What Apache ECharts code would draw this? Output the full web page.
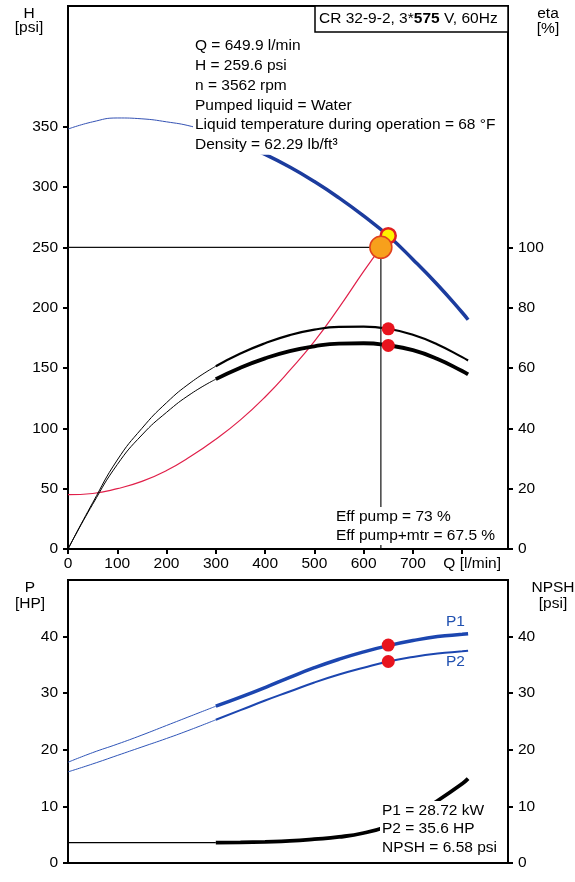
<!DOCTYPE html>
<html>
<head>
<meta charset="utf-8">
<script src="https://cdn.jsdelivr.net/npm/echarts@6/dist/echarts.min.js"></script>
<style>
  html, body { margin: 0; padding: 0; background: #fff; }
  #chart { width: 575px; height: 882px; }
</style>
</head>
<body>
<div id="chart"></div>
<script>
  // flow grid used by most curves [l/min]
  const qGrid = [0, 50, 100, 150, 200, 250, 300, 350, 400, 450, 500, 550, 600, 650, 700, 750, 800, 812]
  // head curve [psi]
  const headVals = [348, 354, 357.2, 356.5, 354, 350.3, 344, 336, 327, 316.5, 304.5, 291, 276, 259.6, 240, 219, 196, 190]
  // system curve [psi]
  const qSys = [0, 50, 100, 150, 200, 250, 300, 350, 400, 450, 500, 550, 600, 635]
  const sysVals = [45, 46, 50, 56, 65, 77, 91, 107, 126, 148, 172, 200, 230, 250]
  // efficiencies [%]
  const etaPump = [0, 15.3, 29.5, 40, 48.5, 55.3, 60.6, 64.8, 68.2, 70.9, 72.7, 73.6, 73.7, 73, 71, 67.8, 63.6, 62.5]
  const etaTotal = [0, 14.8, 28, 37.8, 45.3, 51.5, 56.3, 60.1, 63.2, 65.6, 67.2, 68.1, 68.2, 67.5, 65.9, 63, 59, 57.9]
  // power [HP] and NPSH [psi]
  const p1Vals = [17.8, 19.5, 21, 22.6, 24.3, 26, 27.7, 29.3, 31, 32.8, 34.5, 36, 37.3, 38.4, 39.3, 40, 40.4, 40.5]
  const p2Vals = [16.1, 17.5, 19, 20.5, 22, 23.6, 25.3, 27, 28.7, 30.3, 31.9, 33.3, 34.5, 35.6, 36.4, 37, 37.4, 37.5]
  const npshVals = [3.6, 3.6, 3.6, 3.6, 3.6, 3.6, 3.6, 3.65, 3.75, 3.9, 4.2, 4.6, 5.3, 6.5, 8.3, 11, 14, 14.9]
  // duty / operating points
  const dutyPoint = [635, 250]
  const opPoint = [649.9, 259.6]
  const etaPoints = [[650, 73], [650, 67.5]]
  const powerPoints = [[650, 38.5], [650, 35.6]]
  // tick labels
  const qTicks = [0, 100, 200, 300, 400, 500, 600, 700, 800]
  const hTicks = [0, 50, 100, 150, 200, 250, 300, 350]
  const etaTicks = [0, 20, 40, 60, 80, 100]
  const pTicks = [0, 10, 20, 30, 40]
  const npshTicks = [0, 10, 20, 30, 40]

  const FONT = "'Liberation Sans', Arial, sans-serif"
  const FS = 15.5

  // pairs between two flow limits
  const seg = (qs, vs, from, to) => qs.map((q, i) => [q, vs[i]]).filter(p => p[0] >= from && p[0] <= to)

  const chart = echarts.init(document.getElementById('chart'))

  const axisLineStyle = { lineStyle: { color: '#000', width: 2 } }
  const tickLabel = { color: '#000', fontSize: FS, fontFamily: FONT }

  const yAxisOf = (grid, pos, max, ticks) => ({
    type: 'value',
    gridIndex: grid,
    position: pos,
    min: 0,
    max: max,
    axisLine: { show: true, ...axisLineStyle },
    axisTick: { show: true, length: 5, lineStyle: { color: '#000', width: 2 }, customValues: ticks },
    axisLabel: { ...tickLabel, margin: 10, customValues: ticks },
    splitLine: { show: false },
  })

  const line = (name, data, color, width, xi, yi, z) => ({
    name, type: 'line', data, xAxisIndex: xi, yAxisIndex: yi,
    smooth: true, symbol: 'none', silent: true, z: z || 2,
    lineStyle: { color, width },
  })

  const textEl = (text, x, y, extra) => ({
    type: 'text', z: 100, x, y,
    style: { text, font: `${FS}px ${FONT}`, fill: '#000', ...extra },
  })

  const options = {
    animation: false,
    backgroundColor: '#fff',
    grid: [
      { left: 68, top: 6, width: 440, height: 543, show: true, borderColor: '#000', borderWidth: 2, backgroundColor: 'transparent' },
      { left: 68, top: 580, width: 440, height: 283, show: true, borderColor: '#000', borderWidth: 2, backgroundColor: 'transparent' },
    ],
    xAxis: [
      {
        type: 'value', gridIndex: 0, min: 0, max: 893,
        axisLine: { show: true, ...axisLineStyle },
        axisTick: { show: true, length: 5, lineStyle: { color: '#000', width: 2 }, customValues: qTicks },
        axisLabel: {
          ...tickLabel, margin: 7, customValues: qTicks,
          formatter: v => (v === 800 ? '{q|Q [l/min]}' : String(v)),
          rich: { q: { fontSize: FS, fontFamily: FONT, color: '#000', padding: [0, 0, 0, 20] } },
        },
        splitLine: { show: false },
      },
      {
        type: 'value', gridIndex: 1, min: 0, max: 893,
        axisLine: { show: true, ...axisLineStyle },
        axisTick: { show: false },
        axisLabel: { show: false },
        splitLine: { show: false },
      },
    ],
    yAxis: [
      yAxisOf(0, 'left', 450, hTicks),
      yAxisOf(0, 'right', 180, etaTicks),
      yAxisOf(1, 'left', 50, pTicks),
      yAxisOf(1, 'right', 50, npshTicks),
    ],
    series: [
      // head
      line('H thin', seg(qGrid, headVals, 0, 300), '#3452b4', 1, 0, 0),
      line('H', seg(qGrid, headVals, 300, 812), '#1c3c9e', 3.5, 0, 0),
      // system curve
      line('system', qSys.map((q, i) => [q, sysVals[i]]), '#e0204a', 1.2, 0, 0),
      // guide lines to duty point
      { type: 'line', data: [[0, dutyPoint[1]], dutyPoint], xAxisIndex: 0, yAxisIndex: 0, symbol: 'none', silent: true, lineStyle: { color: '#111', width: 1.2 } },
      { type: 'line', data: [[dutyPoint[0], 0], dutyPoint], xAxisIndex: 0, yAxisIndex: 0, symbol: 'none', silent: true, lineStyle: { color: '#111', width: 1.2 } },
      // efficiencies
      line('eta thin', seg(qGrid, etaPump, 0, 300), '#000', 1, 0, 1),
      line('eta', seg(qGrid, etaPump, 300, 812), '#000', 2.2, 0, 1),
      line('eta tot thin', seg(qGrid, etaTotal, 0, 300), '#000', 1, 0, 1),
      line('eta tot', seg(qGrid, etaTotal, 300, 812), '#000', 3.8, 0, 1),
      // power
      line('P1 thin', seg(qGrid, p1Vals, 0, 300), '#2f55b8', 1, 1, 2),
      line('P1', seg(qGrid, p1Vals, 300, 812), '#1c46b0', 3.5, 1, 2),
      line('P2 thin', seg(qGrid, p2Vals, 0, 300), '#2f55b8', 1, 1, 2),
      line('P2', seg(qGrid, p2Vals, 300, 812), '#1c46b0', 2, 1, 2),
      // npsh
      line('NPSH thin', seg(qGrid, npshVals, 0, 300), '#000', 1.2, 1, 3),
      line('NPSH', seg(qGrid, npshVals, 300, 812), '#000', 3.8, 1, 3),
      // markers
      { type: 'scatter', data: [opPoint], xAxisIndex: 0, yAxisIndex: 0, symbolSize: 15, z: 5, silent: true, itemStyle: { color: '#fff200', borderColor: '#e02020', borderWidth: 2.5, opacity: 1 } },
      { type: 'scatter', data: [dutyPoint], xAxisIndex: 0, yAxisIndex: 0, symbolSize: 22, z: 6, silent: true, itemStyle: { color: '#f7a01c', borderColor: '#e0401e', borderWidth: 1.5, opacity: 1 } },
      { type: 'scatter', data: etaPoints, xAxisIndex: 0, yAxisIndex: 1, symbolSize: 13, z: 5, silent: true, itemStyle: { color: '#e8141e', opacity: 1 } },
      { type: 'scatter', data: powerPoints, xAxisIndex: 1, yAxisIndex: 2, symbolSize: 13, z: 5, silent: true, itemStyle: { color: '#e8141e', opacity: 1 } },
    ],
    graphic: [
      // title box
      { type: 'rect', z: 100, shape: { x: 315, y: 6, width: 193, height: 26 }, style: { fill: '#fff', stroke: '#000', lineWidth: 1.5 } },
      {
        type: 'text', z: 101, x: 319, y: 19,
        style: {
          text: '{n|CR 32-9-2, 3*}{b|575}{n| V, 60Hz}', verticalAlign: 'middle',
          rich: {
            n: { fontSize: FS, fontFamily: FONT, fill: '#000', color: '#000' },
            b: { fontSize: FS, fontFamily: FONT, fontWeight: 'bold', fill: '#000', color: '#000' },
          },
        },
      },
      // axis names
      textEl('H', 29, 14, { align: 'center', verticalAlign: 'middle' }),
      textEl('[psi]', 29, 28, { align: 'center', verticalAlign: 'middle' }),
      textEl('eta', 548, 14, { align: 'center', verticalAlign: 'middle' }),
      textEl('[%]', 548, 29, { align: 'center', verticalAlign: 'middle' }),
      textEl('P', 30, 588, { align: 'center', verticalAlign: 'middle' }),
      textEl('[HP]', 30, 604, { align: 'center', verticalAlign: 'middle' }),
      textEl('NPSH', 553, 588, { align: 'center', verticalAlign: 'middle' }),
      textEl('[psi]', 553, 604, { align: 'center', verticalAlign: 'middle' }),
      // annotations
      textEl('Q = 649.9 l/min\nH = 259.6 psi\nn = 3562 rpm\nPumped liquid = Water\nLiquid temperature during operation = 68 °F\nDensity = 62.29 lb/ft³',
        193, 36, { lineHeight: 19.8, backgroundColor: '#fff', padding: [0, 2, 0, 2] }),
      textEl('Eff pump = 73 %\nEff pump+mtr = 67.5 %', 334, 507, { lineHeight: 19, backgroundColor: '#fff', padding: [0, 2, 0, 2] }),
      textEl('P1 = 28.72 kW\nP2 = 35.6 HP\nNPSH = 6.58 psi', 380, 801, { lineHeight: 18.8, backgroundColor: '#fff', padding: [0, 2, 0, 2] }),
      textEl('P1', 446, 622, { fill: '#2050b0', verticalAlign: 'middle' }),
      textEl('P2', 446, 662, { fill: '#2050b0', verticalAlign: 'middle' }),
    ],
  }

  chart.setOption(options)
</script>
</body>
</html>
